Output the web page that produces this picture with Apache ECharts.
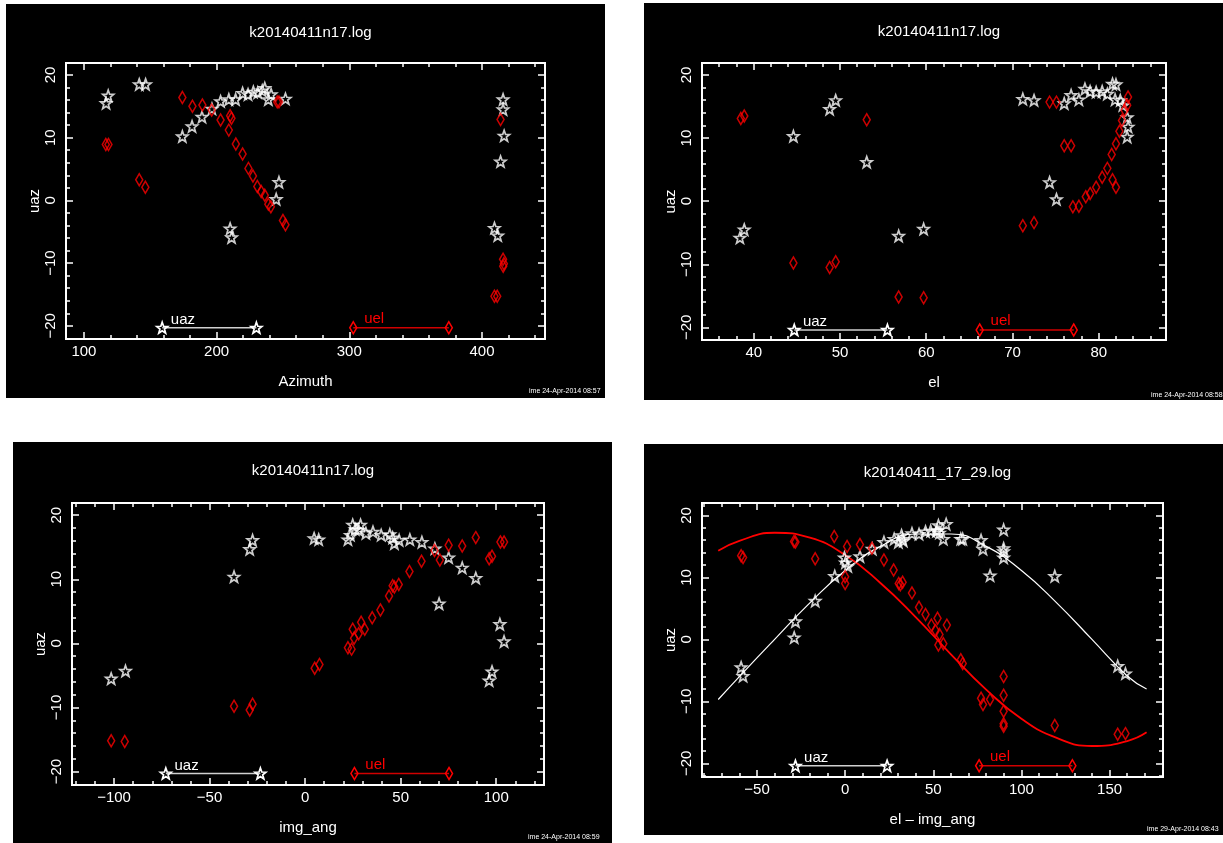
<!DOCTYPE html>
<html>
<head>
<meta charset="utf-8">
<title>k20140411 uaz / uel</title>
<script src="https://cdn.jsdelivr.net/npm/echarts@6/dist/echarts.min.js"></script>
<style>
html, body { margin: 0; padding: 0; background: #fff; }
#chart { width: 1223px; height: 843px; }
</style>
</head>
<body>
<div id="chart"></div>
<script>
// ---- values, [x, y] ----
// panel 1: x = Azimuth
const azUaz = [[116.7,15.5],[118.3,16.7],[141.7,18.5],[146.5,18.5],[174.2,10.2],[181.5,11.8],[189,13.3],[196.5,14.6],[203,15.8],[209.2,16.1],[214.3,16.1],[219.6,17.1],[223.7,16.9],[227.7,17.3],[231,17.2],[234.4,17.5],[236.3,17.9],[239,16.1],[241.1,16.9],[251.9,16.2],[244.9,0.2],[247,2.9],[210.2,-4.5],[211.3,-5.9],[415.9,16.1],[415.9,14.5],[416.7,10.3],[414,6.2],[409.4,-4.4],[411.9,-5.6]];
const azUel = [[116.5,8.9],[118.5,8.9],[141.7,3.3],[146.3,2.1],[174.2,16.4],[181.8,15.0],[189.3,15.2],[196.3,14.4],[203,12.8],[209.2,11.2],[210.2,13.5],[211.2,13.1],[214.5,9.0],[219.6,7.4],[224,5.1],[227.4,3.9],[230.7,2.2],[233.6,1.4],[236.3,0.8],[239,-0.6],[240.9,-1.0],[245.7,15.7],[247,15.7],[250,-3.2],[251.9,-3.9],[414,12.9],[415.9,-9.4],[416.5,-10.1],[416,-10.5],[409.4,-15.3],[411.5,-15.3]];

// panel 2: x = el
const elUaz = [[38.4,-5.8],[38.9,-4.5],[44.6,10.3],[48.8,14.6],[49.5,16.0],[53.1,6.2],[56.8,-5.5],[59.7,-4.4],[71.2,16.2],[72.5,16.0],[74.3,3.0],[75.1,0.3],[76.0,15.5],[76.8,16.8],[77.7,16.1],[78.4,17.8],[79.0,17.4],[79.7,17.3],[80.4,17.4],[81.0,17.0],[81.6,18.6],[82.0,18.5],[81.9,16.1],[82.5,16.0],[82.8,15.2],[83.3,13.3],[83.4,11.8],[83.3,10.2]];
const elUel = [[38.5,13.1],[38.9,13.5],[44.6,-9.8],[48.8,-10.5],[49.5,-9.6],[53.1,12.9],[56.8,-15.2],[59.7,-15.3],[71.2,-3.9],[72.5,-3.4],[74.3,15.7],[75.1,15.7],[76.0,8.8],[76.8,8.8],[77.0,-0.9],[77.7,-0.8],[78.5,0.7],[79.0,1.2],[79.7,2.2],[80.4,3.8],[81.0,5.2],[81.5,7.4],[82.0,9.1],[82.4,11.1],[81.6,3.4],[82.0,2.2],[82.7,12.8],[83.0,14.4],[83.3,15.2],[83.4,16.5]];

// panel 3: x = img_ang
const imgUaz = [[-101.5,-5.5],[-94,-4.3],[-37.2,10.4],[-29,14.7],[-27.5,16.1],[4.7,16.4],[7.1,16.2],[22.4,16.2],[24.9,18.5],[29,18.5],[26.2,17.8],[28,17.7],[23.7,16.9],[31.8,17.2],[35.5,17.4],[39.8,16.9],[44.3,17.0],[45.8,16.5],[46.7,15.6],[49.2,16.1],[54.8,16.2],[61.1,15.8],[67.9,14.8],[70.1,6.2],[75.1,13.4],[82.2,11.8],[89.3,10.2],[96.3,-5.8],[97.8,-4.4],[101.9,3.0],[104.1,0.3]];
const imgUel = [[-101.5,-15.2],[-94.4,-15.3],[-37.2,-9.8],[-29,-10.4],[-27.5,-9.5],[5.0,-3.9],[7.5,-3.3],[22.4,-0.7],[24.3,-0.9],[24.9,2.2],[25.6,0.8],[28,1.5],[29.3,3.3],[31.2,2.2],[35.1,4.0],[39.4,5.2],[43.9,7.4],[45.8,9.0],[46.7,8.8],[49,9.2],[54.6,11.2],[60.9,12.8],[67.7,14.5],[70.5,13.0],[75.1,15.3],[82.2,15.2],[89.3,16.5],[96.3,13.2],[97.8,13.6],[102.2,15.8],[104.1,15.8]];

// panel 4: x = el - img_ang
const diffUaz = [[-59,-4.5],[-57.9,-5.9],[-28.2,2.9],[-28.9,0.3],[-17,6.2],[-5.9,10.2],[-0.4,13.2],[0.2,12.4],[1.5,11.8],[8.4,13.4],[15.4,14.6],[22,15.7],[27.8,16.2],[30.2,15.7],[32.4,16.2],[32,16.8],[33,15.9],[37.9,17.1],[41.9,17.0],[45.6,17.4],[48.5,17.5],[51.8,17.5],[52.9,18.4],[52.4,17.6],[53.5,17.2],[57.3,18.6],[55.7,16.2],[65.6,16.2],[66.7,16.2],[77.1,16.0],[78.2,14.6],[82.2,10.3],[89.9,17.7],[89.9,14.7],[89.9,14.2],[89.9,13.2],[118.9,10.2],[154.6,-4.3],[159,-5.5]];
const diffUel = [[-59,13.5],[-57.9,13.2],[-29,15.8],[-28.2,15.7],[-17,13.0],[-6.2,16.6],[0,10.1],[0,9.0],[1.1,15.0],[8.4,15.3],[15.2,14.7],[22,12.8],[27.5,11.2],[30.4,9.0],[31.3,8.8],[32.6,9.2],[37.9,7.5],[41.9,5.2],[45.6,4.0],[48.9,2.3],[51.3,1.4],[52.4,3.4],[53.5,0.8],[52.9,-0.9],[55.7,-0.7],[57.7,2.3],[65.6,-3.3],[66.7,-3.9],[77.1,-9.5],[78.2,-10.5],[82.2,-9.7],[89.9,-6.0],[89.9,-9.0],[89.9,-11.6],[89.9,-13.6],[89.9,-14.0],[118.9,-13.9],[154.6,-15.3],[159,-15.2]];

// fitted curves in panel 4, read at these x values
const fitX   = [-72, -60, -40, -20, 0, 20, 40, 60, 80, 100, 120, 140, 160, 171];
const fitUaz = [-9.7, -6.0, 0.0, 5.9, 11.1, 15.0, 17.0, 17.0, 15.0, 11.1, 5.9, 0.0, -5.9, -8.0];
const fitUel = [14.3, 15.9, 17.2, 16.4, 13.6, 9.1, 3.6, -2.4, -8.1, -12.8, -15.9, -17.2, -16.4, -15.0];

// the in-plot key: [x start, x end] at y = keyY
const keyUaz = [[159, 230], [44.7, 55.5], [-72.9, -23.4], [-28.2, 23.8]];
const keyUel = [[303, 375], [66.2, 77.1], [25.8, 75.3], [76, 128.9]];
const keyY = [-20.3, -20.4, -20.3, -20.4];

// axes
const xMajor = [[100, 200, 300, 400], [40, 50, 60, 70, 80], [-100, -50, 0, 50, 100], [-50, 0, 50, 100, 150]];
const xMinorStep = [20, 2, 10, 10];
const xRange = [[86.5, 447.5], [34, 87.8], [-122, 125], [-81.2, 180.3]];
const yMajor = [-20, -10, 0, 10, 20];
const yRange = [[-22.1, 21.9], [-22, 21.9], [-22.1, 21.9], [-22.2, 22]];
const xNames = ['Azimuth', 'el', 'img_ang', 'el \u2013 img_ang'];
const titles = ['k20140411n17.log', 'k20140411n17.log', 'k20140411n17.log', 'k20140411_17_29.log'];
const stamps = ['ime 24-Apr-2014 08:57', 'ime 24-Apr-2014 08:58', 'ime 24-Apr-2014 08:59', 'ime 29-Apr-2014 08:43'];

// page layout (pixels)
const frames = [
  { left: 66, top: 63, width: 479, height: 276 },
  { left: 702, top: 63, width: 464, height: 277 },
  { left: 72, top: 503, width: 472, height: 282 },
  { left: 702, top: 503, width: 461, height: 274 }
];
const boxes = [[6, 4, 599, 394], [644, 3, 579, 397], [13, 442, 599, 401], [644, 444, 579, 391]];
const stampPos = [[529, 391], [1151, 395], [528, 837], [1147, 829]];
const titleTop = [20, 19, 458, 460];

const FONT = '"Liberation Sans", Arial, sans-serif';
const STAR = 'path://M12,1 L14.9,9 L23.4,9.3 L16.7,14.6 L19.1,22.8 L12,18 L4.9,22.8 L7.3,14.6 L0.6,9.3 L9.1,9 Z';
const WHITE = '#ffffff';
const RED = '#ff0000';

function minors(lo, hi, step, majors) {
  const out = [];
  for (let v = Math.ceil(lo / step) * step; v < hi; v += step) {
    if (v > lo && majors.indexOf(v) < 0) out.push(v);
  }
  return out;
}
const minus = (v) => String(v).replace('-', '\u2212');

const grid = [], xAxis = [], yAxis = [], series = [], title = [], graphic = [];

frames.forEach((f, i) => {
  grid.push(Object.assign({ show: true, borderColor: WHITE, borderWidth: 2, backgroundColor: 'transparent' }, f));

  const xb = { gridIndex: i, type: 'value', min: xRange[i][0], max: xRange[i][1],
    splitLine: { show: false }, axisLine: { show: false, onZero: false } };
  const xMin = minors(xRange[i][0], xRange[i][1], xMinorStep[i], xMajor[i]);
  const bigX = { inside: true, length: 7, customValues: xMajor[i], lineStyle: { color: WHITE, width: 1.5 } };
  const smallX = { inside: true, length: 4, customValues: xMin, lineStyle: { color: WHITE, width: 1.5 } };
  xAxis.push(Object.assign({}, xb, {
    position: 'bottom', axisTick: bigX,
    axisLabel: { color: WHITE, fontSize: 15, fontFamily: FONT, margin: 5, customValues: xMajor[i], formatter: minus },
    name: xNames[i], nameLocation: 'middle', nameGap: 35,
    nameTextStyle: { color: WHITE, fontSize: 15, fontFamily: FONT }
  }));
  xAxis.push(Object.assign({}, xb, { position: 'bottom', axisTick: smallX, axisLabel: { show: false } }));
  xAxis.push(Object.assign({}, xb, { position: 'top', axisTick: bigX, axisLabel: { show: false } }));
  xAxis.push(Object.assign({}, xb, { position: 'top', axisTick: smallX, axisLabel: { show: false } }));

  const yb = { gridIndex: i, type: 'value', min: yRange[i][0], max: yRange[i][1],
    splitLine: { show: false }, axisLine: { show: false, onZero: false } };
  const yMin = minors(yRange[i][0], yRange[i][1], 2, yMajor);
  const bigY = { inside: true, length: 7, customValues: yMajor, lineStyle: { color: WHITE, width: 1.5 } };
  const smallY = { inside: true, length: 4, customValues: yMin, lineStyle: { color: WHITE, width: 1.5 } };
  yAxis.push(Object.assign({}, yb, {
    position: 'left', axisTick: bigY,
    axisLabel: { color: WHITE, fontSize: 15, fontFamily: FONT, margin: 8, rotate: 90, customValues: yMajor, formatter: minus },
    name: 'uaz', nameLocation: 'middle', nameGap: 24,
    nameTextStyle: { color: WHITE, fontSize: 15, fontFamily: FONT }
  }));
  yAxis.push(Object.assign({}, yb, { position: 'left', axisTick: smallY, axisLabel: { show: false } }));
  yAxis.push(Object.assign({}, yb, { position: 'right', axisTick: bigY, axisLabel: { show: false } }));
  yAxis.push(Object.assign({}, yb, { position: 'right', axisTick: smallY, axisLabel: { show: false } }));

  title.push({
    text: titles[i], left: f.left + f.width / 2, top: titleTop[i], textAlign: 'center',
    textStyle: { color: WHITE, fontSize: 15, fontWeight: 'normal', fontFamily: FONT }
  });

  graphic.push({ type: 'rect', z: -10, silent: true,
    shape: { x: boxes[i][0], y: boxes[i][1], width: boxes[i][2], height: boxes[i][3] },
    style: { fill: '#000' } });
  graphic.push({ type: 'text', z: 10, silent: true, x: stampPos[i][0], y: stampPos[i][1],
    style: { text: stamps[i], fill: WHITE, fontSize: 7, fontFamily: FONT, verticalAlign: 'middle' } });
});

const sets = [[azUaz, azUel], [elUaz, elUel], [imgUaz, imgUel], [diffUaz, diffUel]];
const starStyle = { color: 'rgba(0,0,0,0)', borderColor: WHITE, borderWidth: 1.7 };
const diaStyle = { color: 'rgba(0,0,0,0)', borderColor: RED, borderWidth: 1.6 };

function keySeries(i, xs, name, symbol, size, itemStyle, lineColor, textColor) {
  const y = keyY[i];
  return {
    type: 'line', xAxisIndex: i * 4, yAxisIndex: i * 4, silent: true, z: 4,
    symbol: symbol, symbolSize: size, showAllSymbol: true, itemStyle: itemStyle,
    lineStyle: { color: lineColor, width: 1.5 },
    data: [
      { value: [xs[0], y], label: { show: true, formatter: name, position: [15, -9],
        color: textColor, fontSize: 15, fontFamily: FONT } },
      [xs[1], y]
    ]
  };
}

sets.forEach((s, i) => {
  series.push({ type: 'scatter', name: 'uaz', xAxisIndex: i * 4, yAxisIndex: i * 4, silent: true, z: 3,
    symbol: STAR, symbolSize: 11, itemStyle: starStyle, data: s[0] });
  series.push({ type: 'scatter', name: 'uel', xAxisIndex: i * 4, yAxisIndex: i * 4, silent: true, z: 3,
    symbol: 'diamond', symbolSize: [7, 12], itemStyle: diaStyle, data: s[1] });
  series.push(keySeries(i, keyUaz[i], 'uaz', STAR, 11, starStyle, '#d0d0d0', WHITE));
  series.push(keySeries(i, keyUel[i], 'uel', 'diamond', [7, 12], diaStyle, '#d00000', RED));
});

series.push({ type: 'line', xAxisIndex: 12, yAxisIndex: 12, silent: true, smooth: true, showSymbol: false, z: 2,
  lineStyle: { color: WHITE, width: 1.2 }, data: fitX.map((x, k) => [x, fitUaz[k]]) });
series.push({ type: 'line', xAxisIndex: 12, yAxisIndex: 12, silent: true, smooth: true, showSymbol: false, z: 2,
  lineStyle: { color: RED, width: 1.8 }, data: fitX.map((x, k) => [x, fitUel[k]]) });

const chart = echarts.init(document.getElementById('chart'));
chart.setOption({
  backgroundColor: '#ffffff',
  animation: false,
  title: title,
  grid: grid,
  xAxis: xAxis,
  yAxis: yAxis,
  graphic: graphic,
  series: series
});
</script>
</body>
</html>
